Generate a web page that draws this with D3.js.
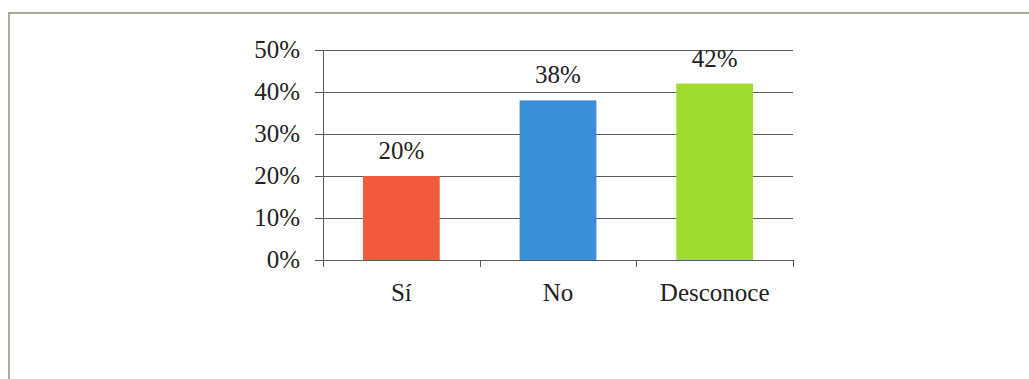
<!DOCTYPE html>
<html>
<head>
<meta charset="utf-8">
<script src="https://cdn.jsdelivr.net/npm/d3@7"></script>
<style>
  html, body { margin: 0; padding: 0; background: #fff; }
  svg { display: block; }
  text { font-family: "Liberation Serif", "Times New Roman", serif; fill: #222; }
</style>
</head>
<body>
<svg id="chart" width="1029" height="379"></svg>
<script>
const categories = ["Sí", "No", "Desconoce"];
const values = [0.20, 0.38, 0.42];
const colors = ["#f25a3c", "#3b8fd6", "#9edc2e"];
const yTicks = [0, 0.1, 0.2, 0.3, 0.4, 0.5];

const svg = d3.select("#chart");
const W = 1029, H = 379;

// outer frame (runs past the right and bottom edges)
svg.append("rect")
  .attr("x", 9).attr("y", 13)
  .attr("width", W).attr("height", H)
  .attr("fill", "none")
  .attr("stroke", "#aaa996")
  .attr("stroke-width", 2);

const plot = { left: 323, right: 793, top: 50, bottom: 260 };

const x = d3.scaleBand()
  .domain(categories)
  .range([plot.left, plot.right])
  .paddingInner(0.51)
  .paddingOuter(0.255);

const y = d3.scaleLinear()
  .domain([0, 0.5])
  .range([plot.bottom, plot.top]);

const fmt = d3.format(".0%");

// horizontal gridlines with left tick stubs
svg.append("g")
  .selectAll("line")
  .data(yTicks)
  .join("line")
  .attr("x1", plot.left - 8)
  .attr("x2", plot.right)
  .attr("y1", d => Math.round(y(d)) + 0.5)
  .attr("y2", d => Math.round(y(d)) + 0.5)
  .attr("stroke", "#5a5a5a")
  .attr("stroke-width", 1);

// y tick labels
svg.append("g")
  .selectAll("text")
  .data(yTicks)
  .join("text")
  .attr("x", plot.left - 23)
  .attr("y", d => y(d))
  .attr("dy", "0.33em")
  .attr("text-anchor", "end")
  .style("font-size", "25px")
  .text(d => fmt(d));

// bars
svg.append("g")
  .selectAll("rect")
  .data(values)
  .join("rect")
  .attr("x", (d, i) => x(categories[i]))
  .attr("y", d => y(d))
  .attr("width", x.bandwidth())
  .attr("height", d => y(0) - y(d))
  .attr("fill", (d, i) => colors[i]);

// value labels
svg.append("g")
  .selectAll("text")
  .data(values)
  .join("text")
  .attr("x", (d, i) => x(categories[i]) + x.bandwidth() / 2)
  .attr("y", d => y(d) - 17)
  .attr("text-anchor", "middle")
  .style("font-size", "25px")
  .text(d => fmt(d));

// y axis line
svg.append("line")
  .attr("x1", plot.left + 0.5).attr("x2", plot.left + 0.5)
  .attr("y1", plot.top).attr("y2", plot.bottom + 7)
  .attr("stroke", "#5a5a5a");

// x axis baseline and category boundary ticks
const step = x.step();
const boundaries = d3.range(categories.length + 1).map(i => plot.left + i * (plot.right - plot.left) / categories.length);
svg.append("g")
  .selectAll("line")
  .data(boundaries.slice(1))
  .join("line")
  .attr("x1", d => Math.round(d) + 0.5)
  .attr("x2", d => Math.round(d) + 0.5)
  .attr("y1", plot.bottom)
  .attr("y2", plot.bottom + 7)
  .attr("stroke", "#5a5a5a");

// category labels
svg.append("g")
  .selectAll("text")
  .data(categories)
  .join("text")
  .attr("x", d => x(d) + x.bandwidth() / 2)
  .attr("y", 301)
  .attr("text-anchor", "middle")
  .style("font-size", "25px")
  .text(d => d);
</script>
</body>
</html>
